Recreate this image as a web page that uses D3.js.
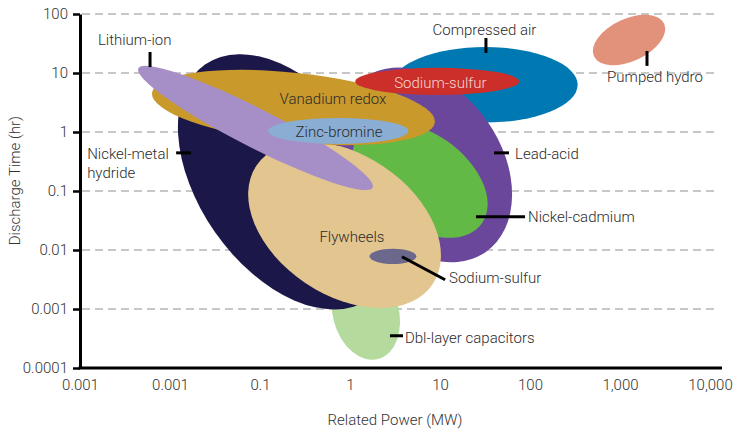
<!DOCTYPE html>
<html>
<head>
<meta charset="utf-8">
<script src="https://cdn.jsdelivr.net/npm/d3@7"></script>
<style>
  body { margin: 0; background: #fff; }
  text { font-family: Roboto, "Liberation Sans", sans-serif; font-weight: 300; }
</style>
</head>
<body>
<div id="chart"></div>
<script>
// technologies, drawn bottom to top
var technologies = ["Dbl-layer capacitors", "Nickel-metal hydride", "Compressed air", "Lead-acid",
    "Nickel-cadmium", "Flywheels", "Vanadium redox", "Sodium-sulfur", "Lithium-ion",
    "Zinc-bromine", "Sodium-sulfur (small)", "Pumped hydro"];
// centre of each range
var powerMW = [1.5, 0.2, 31.6, 6.8, 6.0, 0.87, 0.235, 9.3, 0.089, 0.74, 3.0, 1259];
var hours = [0.00086, 0.143, 6.3, 0.277, 0.155, 0.0267, 2.6, 7.2, 1.17, 1.04, 0.0078, 36.3];
// half spans, in decades
var powerSpan = [0.53, 1.59, 1.03, 1.18, 0.84, 1.18, 1.58, 0.91, 1.46, 0.78, 0.26, 0.43];
var timeSpan = [0.56, 1.49, 0.64, 1.29, 0.80, 1.19, 0.59, 0.23, 0.33, 0.22, 0.13, 0.36];
var tilt = [75, 55, 0, 55, 35, 34, 6, 0, 27, 0, 0, -25];
var colors = ["#b4da9d", "#1b1748", "#0079b3", "#6b479c", "#63b946", "#e2c58f", "#c9992c",
    "#cc2f2a", "#a68fc6", "#8aaed3", "#6c688c", "#e2917a"];

var xTicks = [0.001, 0.01, 0.1, 1, 10, 100, 1000, 10000];
var xTickLabels = ["0.001", "0.001", "0.1", "1", "10", "100", "1,000", "10,000"];
var yTicks = [0.0001, 0.001, 0.01, 0.1, 1, 10, 100];
var yTickLabels = ["0.0001", "0.001", "0.01", "0.1", "1", "10", "100"];

// annotations: text, power, hours, anchor
var labelText = ["Lithium-ion", "Compressed air", "Pumped hydro", "Sodium-sulfur", "Vanadium redox",
    "Zinc-bromine", "Nickel-metal", "hydride", "Lead-acid", "Nickel-cadmium", "Flywheels",
    "Sodium-sulfur", "Dbl-layer capacitors"];
var labelPower = [0.00158, 31.2, 2449, 10.1, 0.647, 0.755, 0.0012, 0.0012, 68.1, 95, 1.05, 12.6, 4.08];
var labelHours = [29.8, 44, 7.05, 5.58, 2.99, 0.826, 0.35, 0.166, 0.35, 0.030, 0.0138, 0.00279, 0.000268];
var labelAnchor = ["start", "middle", "middle", "middle", "middle", "middle", "start", "start",
    "start", "start", "middle", "start", "start"];
// leader lines: [power1, hours1, power2, hours2]
var leaders = [
    [0.006, 22.7, 0.006, 12.6],
    [32.4, 39.2, 32.4, 21.9],
    [1995, 23.6, 1995, 13.2],
    [0.0117, 0.443, 0.0171, 0.443],
    [39.8, 0.443, 58.4, 0.443],
    [25.1, 0.0365, 88, 0.0365],
    [3.78, 0.00767, 11.4, 0.00313],
    [2.78, 0.000352, 3.88, 0.000352]
];

var width = 739, height = 430;

var x = d3.scaleLog().domain([0.001, 10000]).range([80, 710]);
var y = d3.scaleLog().domain([0.0001, 100]).range([368, 14]);

var svg = d3.select("#chart").append("svg")
    .attr("width", width)
    .attr("height", height);

// dashed grid
svg.append("g").selectAll("line")
    .data(yTicks.slice(1))
    .enter().append("line")
    .attr("x1", x(0.001) + 2)
    .attr("x2", x(10000) + 7)
    .attr("y1", function(d) { return y(d); })
    .attr("y2", function(d) { return y(d); })
    .attr("stroke", "#b5b5b5")
    .attr("stroke-width", 1.6)
    .attr("stroke-dasharray", "8,5");

// ranges
svg.append("g").selectAll("ellipse")
    .data(technologies)
    .enter().append("ellipse")
    .attr("transform", function(d, i) {
        return "translate(" + x(powerMW[i]) + "," + y(hours[i]) + ") rotate(" + tilt[i] + ")";
    })
    .attr("rx", function(d, i) { return x(powerMW[i] * Math.pow(10, powerSpan[i])) - x(powerMW[i]); })
    .attr("ry", function(d, i) { return y(hours[i]) - y(hours[i] * Math.pow(10, timeSpan[i])); })
    .attr("fill", function(d, i) { return colors[i]; })
    .append("title").text(function(d) { return d; });

// leader lines
svg.append("g").selectAll("line")
    .data(leaders)
    .enter().append("line")
    .attr("x1", function(d) { return x(d[0]); })
    .attr("y1", function(d) { return y(d[1]); })
    .attr("x2", function(d) { return x(d[2]); })
    .attr("y2", function(d) { return y(d[3]); })
    .attr("stroke", "#000")
    .attr("stroke-width", 3);

// labels
svg.append("g").selectAll("text")
    .data(labelText)
    .enter().append("text")
    .attr("x", function(d, i) { return x(labelPower[i]); })
    .attr("y", function(d, i) { return y(labelHours[i]); })
    .attr("text-anchor", function(d, i) { return labelAnchor[i]; })
    .attr("font-size", 15)
    .attr("fill", function(d, i) { return i === 3 ? "#f6d6d2" : "#2b2b2b"; })
    .text(function(d) { return d; });

// axes
var yAxis = d3.axisLeft(y)
    .tickValues(yTicks)
    .tickFormat(function(d, i) { return yTickLabels[i]; })
    .tickSize(7)
    .tickSizeOuter(0)
    .tickPadding(5);

var gy = svg.append("g")
    .attr("transform", "translate(" + x(0.001) + ",0)")
    .call(yAxis);
gy.select(".domain").attr("stroke-width", 3);
gy.selectAll(".tick line").attr("stroke-width", 2.5);
gy.selectAll(".tick text").attr("font-size", 15).attr("fill", "#333");

var xAxis = d3.axisBottom(x)
    .tickValues(xTicks)
    .tickFormat(function(d, i) { return xTickLabels[i]; })
    .tickSize(0)
    .tickPadding(11);

var gx = svg.append("g")
    .attr("transform", "translate(0," + y(0.0001) + ")")
    .call(xAxis);
gx.select(".domain").remove();
gx.selectAll(".tick text").attr("font-size", 15).attr("fill", "#333");
gx.append("line")
    .attr("x1", x(0.001) - 1.5)
    .attr("x2", x(10000) + 12)
    .attr("stroke", "#000")
    .attr("stroke-width", 3);

// axis titles
svg.append("text")
    .attr("transform", "translate(20," + y(0.15) + ") rotate(-90)")
    .attr("text-anchor", "middle")
    .attr("font-size", 15)
    .attr("fill", "#333")
    .text("Discharge Time (hr)");

svg.append("text")
    .attr("x", (x(0.001) + x(10000)) / 2)
    .attr("y", 425)
    .attr("text-anchor", "middle")
    .attr("font-size", 15)
    .attr("fill", "#333")
    .text("Related Power (MW)");
</script>
</body>
</html>
